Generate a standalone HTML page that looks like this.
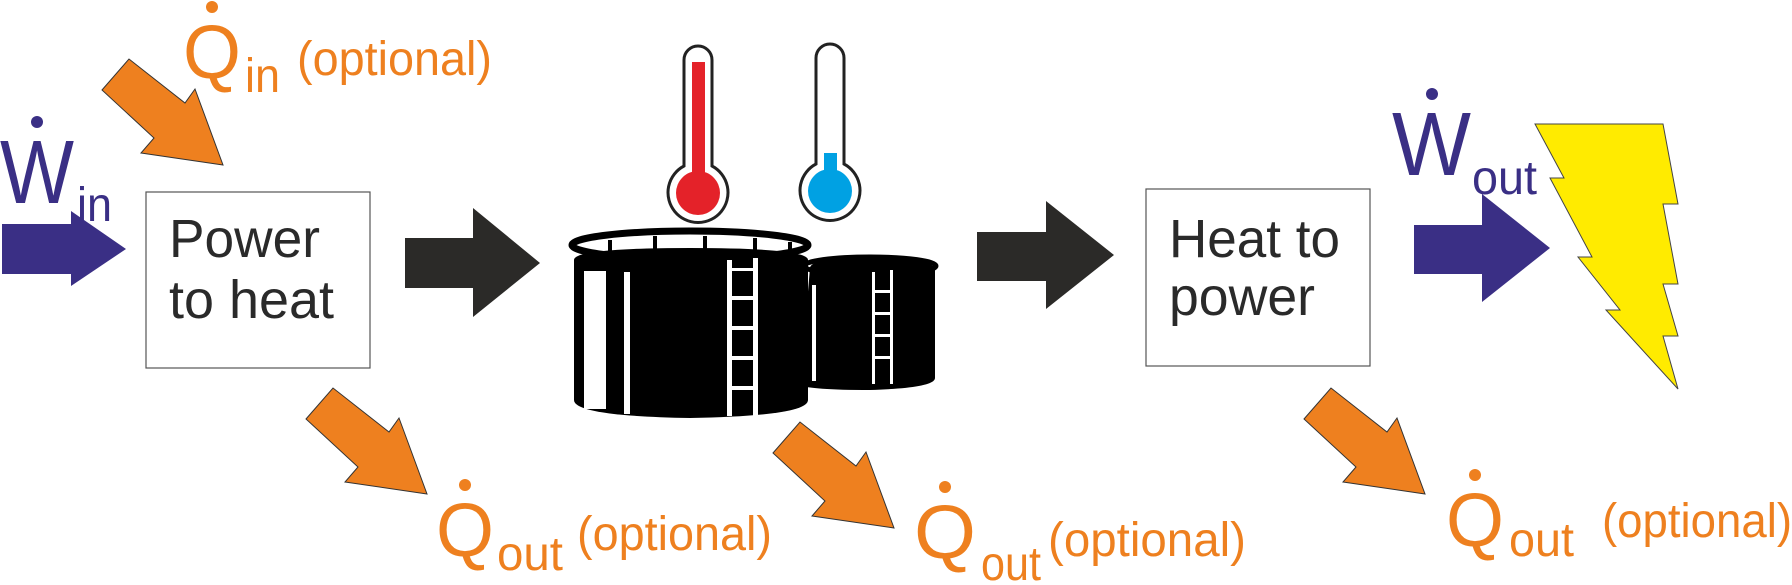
<!DOCTYPE html>
<html><head><meta charset="utf-8"><style>html,body{margin:0;padding:0;background:#fff}svg{display:block}</style></head>
<body>
<svg width="1792" height="585" viewBox="0 0 1792 585" xmlns="http://www.w3.org/2000/svg" font-family="Liberation Sans, Arial, sans-serif">
<defs>
<polygon id="oa" points="-121,-75 -94,-106 -38,-62 -28,-76 0,0 -82,-12 -69,-27" fill="#EE801F" stroke="#333" stroke-width="1"/>
</defs>
<rect x="146" y="192" width="224" height="176" fill="#fff" stroke="#555" stroke-width="1.2"/>
<rect x="1146" y="189" width="224" height="177" fill="#fff" stroke="#555" stroke-width="1.2"/>
<text x="169" y="257" font-size="54" fill="#2a2a2a" textLength="151" lengthAdjust="spacingAndGlyphs">Power</text>
<text x="169" y="318" font-size="54" fill="#2a2a2a" textLength="165" lengthAdjust="spacingAndGlyphs">to heat</text>
<text x="1169" y="257" font-size="54" fill="#2a2a2a" textLength="171" lengthAdjust="spacingAndGlyphs">Heat to</text>
<text x="1169" y="315" font-size="54" fill="#2a2a2a" textLength="146" lengthAdjust="spacingAndGlyphs">power</text>
<polygon points="2,224 71,224 71,211 126,249 71,286 71,274 2,274" fill="#3A2F85"/>
<polygon points="405,238 473,238 473,208 540,263 473,317 473,288 405,288" fill="#2b2a28"/>
<polygon points="977,232 1046,232 1046,201 1114,255 1046,309 1046,281 977,281" fill="#2b2a28"/>
<polygon points="1414,225 1482,225 1482,194 1550,248 1482,302 1482,274 1414,274" fill="#3A2F85"/>
<use href="#oa" transform="translate(223,165)"/>
<use href="#oa" transform="translate(427,494)"/>
<use href="#oa" transform="translate(894,528)"/>
<use href="#oa" transform="translate(1425,494)"/>
<polygon points="1535,124 1663,124 1678,204 1663,204 1678,284 1663,284 1678,336 1663,336 1678,389 1606,310 1620,310 1578,257 1592,257 1550,178 1564,178" fill="#FFEB00" stroke="#444" stroke-width="1"/>
<g stroke="#222" stroke-width="3">
<path d="M684,60 a14,14 0 0 1 28,0 V166 a30,30 0 1 1 -28,0 Z" fill="#fff"/>
<path d="M816,58 a14,14 0 0 1 28,0 V164 a30,30 0 1 1 -28,0 Z" fill="#fff"/>
</g>
<rect x="692" y="62" width="13" height="120" fill="#E42229"/>
<circle cx="698" cy="193" r="22" fill="#E42229"/>
<rect x="824" y="153" width="13" height="28" fill="#00A1E3"/>
<circle cx="830" cy="191" r="22" fill="#00A1E3"/>
<g>
<path d="M810,268 Q810,258 870,258 Q935,258 935,270 V378 Q935,388 870,390 Q810,390 800,385 Z" fill="#000"/>
<ellipse cx="870" cy="266" rx="66" ry="9" fill="none" stroke="#000" stroke-width="5"/>
<path d="M574,260 Q574,248 690,248 Q808,248 808,260 V400 Q808,416 690,418 Q574,416 574,400 Z" fill="#000"/>
<ellipse cx="690" cy="245" rx="118" ry="14" fill="none" stroke="#000" stroke-width="7"/>
<g stroke="#000" stroke-width="4">
<line x1="610" y1="240" x2="610" y2="256"/><line x1="655" y1="236" x2="655" y2="252"/><line x1="705" y1="236" x2="705" y2="252"/><line x1="755" y1="238" x2="755" y2="254"/><line x1="790" y1="242" x2="790" y2="256"/>
</g>
<g fill="#fff">
<rect x="584" y="271" width="22" height="138"/>
<rect x="624" y="272" width="6" height="142"/>
<rect x="727" y="260" width="5" height="156"/><rect x="753" y="258" width="5" height="158"/>
<rect x="732" y="268" width="21" height="3"/><rect x="732" y="296" width="21" height="4"/><rect x="732" y="326" width="21" height="4"/><rect x="732" y="356" width="21" height="4"/><rect x="732" y="386" width="21" height="4"/>
<rect x="872" y="272" width="3" height="112"/><rect x="890" y="270" width="3" height="114"/>
<rect x="875" y="290" width="15" height="3"/><rect x="875" y="312" width="15" height="3"/><rect x="875" y="334" width="15" height="3"/><rect x="875" y="356" width="15" height="3"/>
<rect x="812" y="285" width="4" height="96"/>
</g>
</g>
<g fill="#3A2F85">
<text x="0" y="203" font-size="90" textLength="74" lengthAdjust="spacingAndGlyphs">W</text>
<circle cx="37" cy="122" r="6"/>
<text x="77" y="221" font-size="48" textLength="35" lengthAdjust="spacingAndGlyphs">in</text>
<text x="1392" y="175" font-size="90" textLength="79" lengthAdjust="spacingAndGlyphs">W</text>
<circle cx="1432" cy="94" r="6"/>
<text x="1472" y="194" font-size="48" textLength="65" lengthAdjust="spacingAndGlyphs">out</text>
</g>
<g fill="#EE801F">
<text x="183" y="78" font-size="76" textLength="58" lengthAdjust="spacingAndGlyphs">Q</text>
<circle cx="212" cy="7" r="6"/>
<text x="245" y="92" font-size="48" textLength="35" lengthAdjust="spacingAndGlyphs">in</text>
<text x="297" y="75" font-size="48" textLength="195" lengthAdjust="spacingAndGlyphs">(optional)</text>
<text x="436" y="556" font-size="76" textLength="58" lengthAdjust="spacingAndGlyphs">Q</text>
<circle cx="465" cy="485" r="6"/>
<text x="497" y="570" font-size="48" textLength="66" lengthAdjust="spacingAndGlyphs">out</text>
<text x="577" y="550" font-size="48" textLength="195" lengthAdjust="spacingAndGlyphs">(optional)</text>
<text x="914" y="558" font-size="76" textLength="62" lengthAdjust="spacingAndGlyphs">Q</text>
<circle cx="945" cy="487" r="6"/>
<text x="981" y="580" font-size="48" textLength="60" lengthAdjust="spacingAndGlyphs">out</text>
<text x="1048" y="556" font-size="48" textLength="198" lengthAdjust="spacingAndGlyphs">(optional)</text>
<text x="1446" y="546" font-size="76" textLength="58" lengthAdjust="spacingAndGlyphs">Q</text>
<circle cx="1475" cy="475" r="6"/>
<text x="1509" y="556" font-size="48" textLength="65" lengthAdjust="spacingAndGlyphs">out</text>
<text x="1602" y="537" font-size="48" textLength="190" lengthAdjust="spacingAndGlyphs">(optional)</text>
</g>
</svg>
</body></html>
